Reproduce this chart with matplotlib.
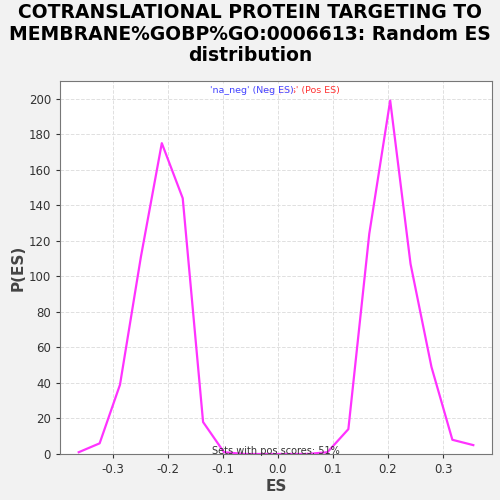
import matplotlib
matplotlib.use("Agg")
import matplotlib.pyplot as plt
import numpy as np

# random ES distribution values
es = [-0.362, -0.324, -0.287, -0.249, -0.211, -0.173, -0.136, -0.098, -0.060, -0.023,
      0.015, 0.053, 0.090, 0.128, 0.166, 0.204, 0.241, 0.279, 0.317, 0.355]
p_es = [1, 6, 39, 111, 175, 144, 18, 1, 0, 0,
        0, 0, 1, 14, 124, 199, 107, 49, 8, 5]
xticks = [-0.3, -0.2, -0.1, 0.0, 0.1, 0.2, 0.3]
yticks = list(range(0, 201, 20))
title = "COTRANSLATIONAL PROTEIN TARGETING TO\nMEMBRANE%GOBP%GO:0006613: Random ES\ndistribution"

fig = plt.figure(figsize=(5, 5), dpi=100, facecolor="#f2f2f2")
ax = fig.add_axes([0.12, 0.092, 0.864, 0.746])
ax.set_facecolor("white")

ax.plot(es, p_es, color="#ff33ff", lw=1.6)

ax.set_xlim(-0.396, 0.389)
ax.set_ylim(0, 210)
ax.set_xticks(xticks)
ax.set_xticklabels(["%.1f" % t for t in xticks])
ax.set_yticks(yticks)
ax.tick_params(labelsize=8.5, colors="#333333", length=3)
ax.grid(True, ls="--", color="#e0e0e0", lw=0.7)
for s in ax.spines.values():
    s.set_color("#777777")

ax.set_xlabel("ES", fontsize=11, fontweight="bold", color="#444444", labelpad=2)
ax.set_ylabel("P(ES)", fontsize=11, fontweight="bold", color="#444444", labelpad=2)
fig.suptitle(title, fontsize=13.5, fontweight="bold", y=0.993, linespacing=1.15)

# overlapping legend labels at top
ax.text(0.463, 0.975, "'na_pos' (Pos ES)", transform=ax.transAxes, color="#ff3333",
        fontsize=6.8, va="center", ha="left")
ax.text(0.347, 0.975, "'na_neg' (Neg ES)", transform=ax.transAxes, color="#4444ff",
        fontsize=6.8, va="center", ha="left",
        bbox=dict(facecolor="white", edgecolor="none", pad=0.3, alpha=0.85))

ax.text(0.5, 0.008, "Sets with pos scores: 51%", transform=ax.transAxes, color="#333333",
        fontsize=7, ha="center", va="center")

fig.savefig("out.png", dpi=100, facecolor=fig.get_facecolor())
